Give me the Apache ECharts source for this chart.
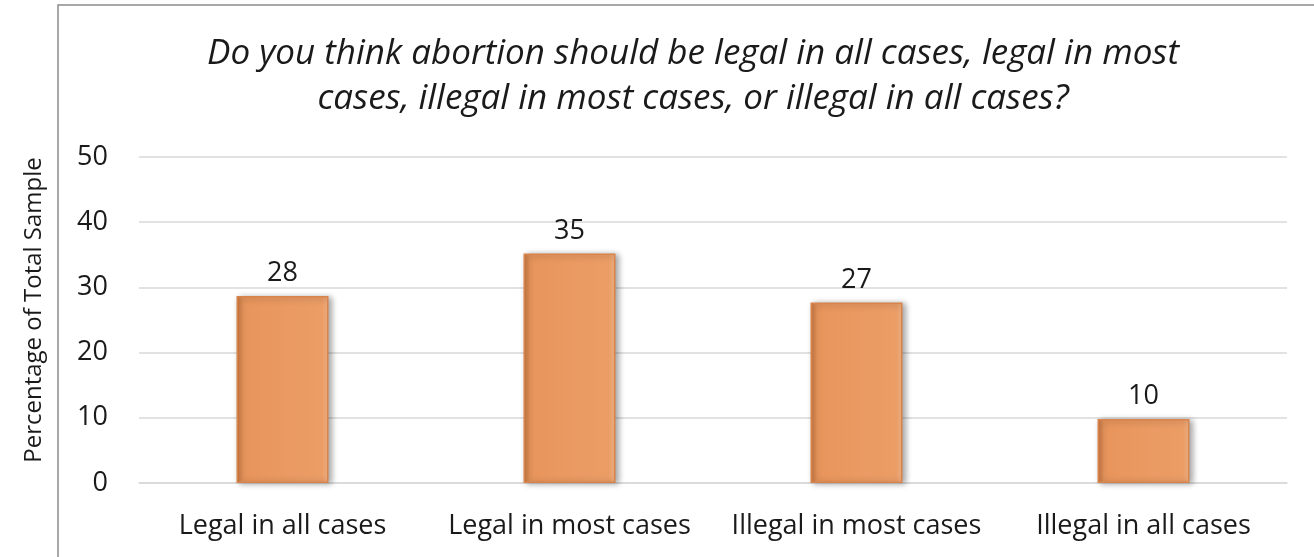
<!DOCTYPE html>
<html>
<head>
<meta charset="utf-8">
<script src="https://cdn.jsdelivr.net/npm/echarts@6/dist/echarts.min.js"></script>
<style>
html, body { margin: 0; padding: 0; background: #fff; }
#main { width: 1314px; height: 557px; }
</style>
</head>
<body>
<div id="main"></div>
<script>
var categories = ['Legal in all cases', 'Legal in most cases', 'Illegal in most cases', 'Illegal in all cases'];
var values = [28.7, 35.2, 27.7, 9.8];
var valueLabels = ['28', '35', '27', '10'];
var yTicks = [0, 10, 20, 30, 40, 50];

var myChart = echarts.init(document.getElementById('main'));
var fontFam = '"Open Sans", "DejaVu Sans", sans-serif';

var option = {
    animation: false,
    title: {
        text: 'Do you think abortion should be legal in all cases, legal in most\ncases, illegal in most cases, or illegal in all cases?',
        left: 688,
        top: 27,
        textAlign: 'center',
        textStyle: {
            fontFamily: fontFam,
            fontStyle: 'italic',
            fontWeight: 'normal',
            fontSize: 35,
            lineHeight: 45,
            color: '#1a1a1a'
        }
    },
    graphic: [
        {
            type: 'polyline',
            shape: { points: [[58, 557], [58, 5], [1314, 5]] },
            style: { stroke: '#8c8c8c', lineWidth: 1.5, fill: null }
        }
    ],
    grid: {
        left: 139,
        right: 27,
        top: 157,
        bottom: 74
    },
    xAxis: {
        type: 'category',
        data: categories,
        axisLine: { show: true, lineStyle: { color: '#d9d9d9', width: 1.5 } },
        axisTick: { show: false },
        axisLabel: {
            fontFamily: fontFam,
            fontSize: 27,
            color: '#1a1a1a',
            margin: 30,
            interval: 0
        }
    },
    yAxis: {
        type: 'value',
        min: yTicks[0],
        max: yTicks[yTicks.length - 1],
        interval: 10,
        name: 'Percentage of Total Sample',
        nameLocation: 'middle',
        nameGap: 93,
        nameTextStyle: {
            fontFamily: fontFam,
            fontSize: 24,
            color: '#1a1a1a',
            padding: [0, 0, 0, 20]
        },
        axisLine: { show: false },
        axisTick: { show: false },
        axisLabel: {
            fontFamily: fontFam,
            fontSize: 27,
            color: '#1a1a1a',
            margin: 31
        },
        splitLine: { lineStyle: { color: '#d9d9d9', width: 1.5 } }
    },
    series: [
        {
            type: 'bar',
            data: values,
            barWidth: 92,
            itemStyle: {
                color: new echarts.graphic.LinearGradient(0, 0, 1, 0, [
                    { offset: 0, color: '#c4733c' },
                    { offset: 0.07, color: '#e8955c' },
                    { offset: 0.93, color: '#eb9d66' },
                    { offset: 1, color: '#f2b184' }
                ]),
                borderColor: '#d8844c',
                borderWidth: 1.5,
                shadowColor: 'rgba(0,0,0,0.35)',
                shadowBlur: 6,
                shadowOffsetX: 3,
                shadowOffsetY: 1
            },
            label: {
                show: true,
                position: 'top',
                distance: 9,
                fontFamily: fontFam,
                fontSize: 27,
                color: '#1a1a1a',
                formatter: function (p) { return valueLabels[p.dataIndex]; }
            }
        }
    ]
};
myChart.setOption(option);
</script>
</body>
</html>
